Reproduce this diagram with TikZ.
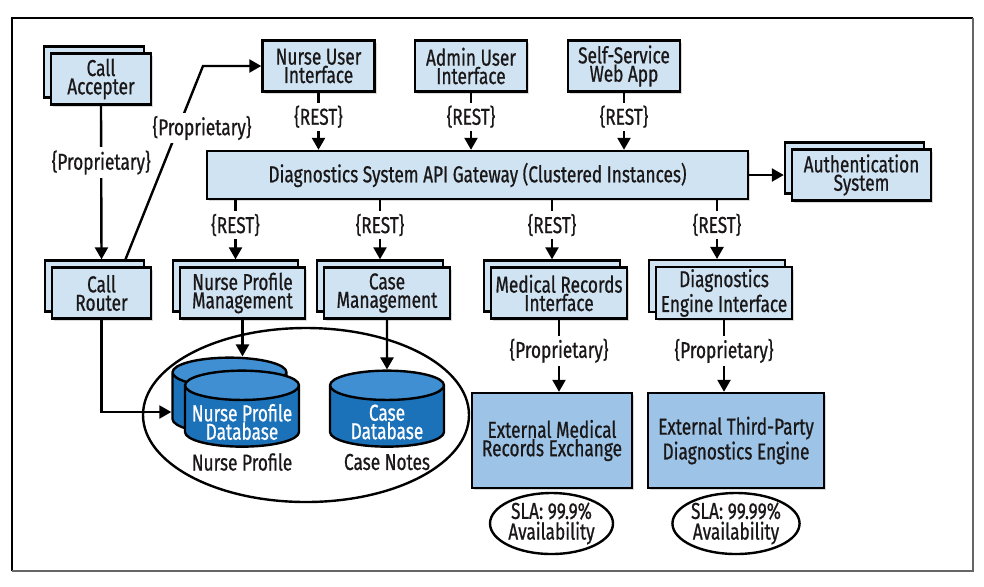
\documentclass[tikz,border=0pt]{standalone}
\usepackage{fontspec}
\setmainfont{Fira Sans}[FakeStretch=0.75, FakeBold=0.7]
\usetikzlibrary{arrows.meta,shapes.geometric,shadows}

\definecolor{boxblue}{HTML}{CFE3F2}
\definecolor{extblue}{HTML}{9DC3E6}
\definecolor{dbtop}{HTML}{3F8FD2}
\definecolor{dbbody}{HTML}{1C72B8}
\definecolor{inkgray}{HTML}{1A1718}

\begin{document}
\begin{tikzpicture}
    [ x=0.5pt, y=-0.5pt
    , font=\fontsize{11.5pt}{9.2pt}\selectfont
    , every node/.style={text=inkgray, align=center}
    , box/.style={draw=black, line width=1.2pt, fill=boxblue, inner sep=1pt, minimum height=25.5pt,
        drop shadow={shadow xshift=1.2pt, shadow yshift=-1.2pt, opacity=0.3}}
    , stack/.style={box, copy shadow={shadow xshift=-3.5pt, shadow yshift=3.5pt}}
    , ext/.style={box, fill=extblue, minimum height=47.5pt}
    , sla/.style={ellipse, draw=black, line width=1.2pt, inner sep=0pt, minimum width=61.5pt, minimum height=30.5pt}
    , db/.style={cylinder, shape border rotate=90, aspect=2.2, draw=black, line width=1.2pt,
        cylinder uses custom fill, cylinder end fill=dbtop, cylinder body fill=dbbody,
        minimum width=57pt, minimum height=38pt}
    , dblbl/.style={text=white, yshift=-1pt}
    , lbl/.style={fill=white, inner sep=1.5pt}
    , arr/.style={line width=1.2pt, -{Triangle[length=6pt, width=6.5pt]}}
    ]
\useasboundingbox (0,0) rectangle (984,586);
\draw[line width=0.6pt] (12,571) -- (12,18) -- (973,18);
\draw[black!60, line width=1.2pt] (973,18) -- (973,571) -- (12,571);

% clients
\node[stack, minimum width=50pt] (acc) at (101,79) {Call\\Accepter};
\node[box, minimum width=56pt] (nui) at (318.5,66) {Nurse User\\Interface};
\node[box, minimum width=56pt] (aui) at (471,66) {Admin User\\Interface};
\node[box, minimum width=56pt] (web) at (624,66) {Self-Service\\Web App};

% gateway
\node[box, minimum width=270.5pt, minimum height=24pt] (gw) at (477.5,175)
    {Diagnostics System API Gateway (Clustered Instances)};
\node[stack, minimum width=69.5pt] (auth) at (861.5,175) {Authentication\\System};

% services
\node[stack, minimum width=49.5pt] (router) at (101.5,293) {Call\\Router};
\node[stack, minimum width=62.5pt] (npm) at (242.5,293) {Nurse Profile\\Management};
\node[stack, minimum width=63pt] (cm) at (387,293) {Case\\Management};
\node[stack, minimum width=68pt] (mri) at (559,293) {Medical Records\\Interface};
\node[stack, minimum width=68pt] (dei) at (724,293) {Diagnostics\\Engine Interface};

% external systems
\node[ext, minimum width=80pt] (emr) at (552,440.5) {External Medical\\Records Exchange};
\node[ext, minimum width=88pt] (ede) at (736,440.5) {External Third-Party\\Diagnostics Engine};
\node[sla] (sla1) at (551.5,523.5) {SLA: 99.9\%\\Availability};
\node[sla] (sla2) at (736,523.5) {SLA: 99.99\%\\Availability};

% data stores
\node[draw=black, ellipse, line width=1.2pt, minimum width=163pt, minimum height=87pt] (store) at (306,415) {};
\node[db] (npdbb) at (229.5,407) {};
\node[db, label={[dblbl]center:Nurse Profile\\Database}] (npdb) at (242,420) {};
\node[db, label={[dblbl]center:Case\\Database}] (cdb) at (387,420) {};
\node (npl) at (242,462) {Nurse Profile};
\node (cnl) at (387,462) {Case Notes};

% connectors
\draw[arr] (acc.south) -- node[lbl, pos=0.37] {\{Proprietary\}} ([yshift=3.5pt]router.north);
\coordinate (kink) at (203,66);
\draw[arr] ([shift={(12pt,3.5pt)}]router.north) -- (kink) -- (nui.west);
\node[lbl] (prop) at (202,128) {\{Proprietary\}};
\foreach \n in {nui,aui,web}
  \draw[arr] (\n.south) -- node[lbl, pos=0.42] {\{REST\}} (\n.south |- gw.north);
\draw[arr] (gw.east) -- ([xshift=-3.5pt]auth.west);
\foreach \n in {npm,cm,mri,dei} {
  \coordinate (\n top) at ([shift={(-3.5pt,3.5pt)}]\n.north);
  \draw[arr] (gw.south -| \n top) -- node[lbl, pos=0.42] {\{REST\}} (\n top);
}
\foreach \n/\m in {mri/emr,dei/ede}
  \draw[arr] (\n.south) -- node[lbl, pos=0.43] {\{Proprietary\}} (\n.south |- \m.north);
\draw[arr] (npm.south) -- (npm.south |- npdbb.north);
\draw[arr] (cm.south) -- (cdb.north);
\draw[arr] (router.south) |- ([yshift=-2.5pt]npdbb.west);

\end{tikzpicture}
\end{document}
